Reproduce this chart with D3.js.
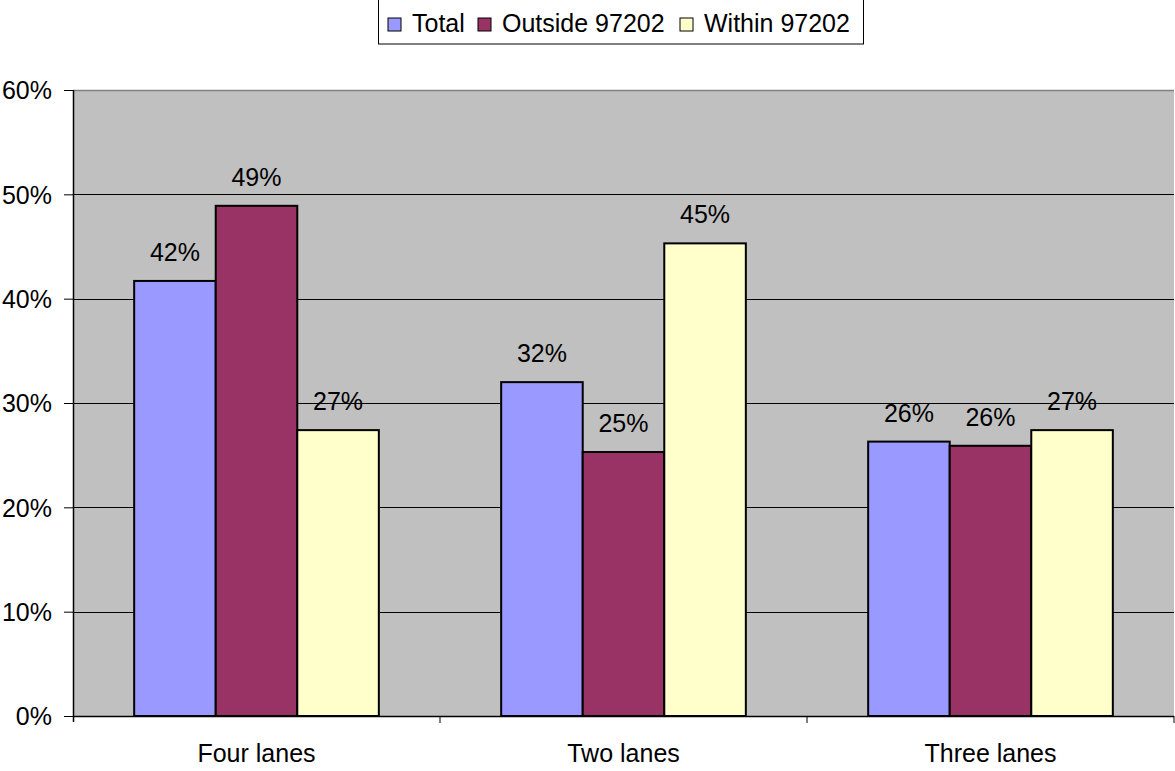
<!DOCTYPE html>
<html>
<head>
<meta charset="utf-8">
<script src="https://cdn.jsdelivr.net/npm/d3@7"></script>
<style>
  body { margin: 0; background: #fff; }
  text { font-family: "Liberation Sans", Arial, sans-serif; fill: #000; }
</style>
</head>
<body>
<div id="chart"></div>
<script>
// Chart data
const categories = ['Four lanes', 'Two lanes', 'Three lanes'];
const seriesNames = ['Total', 'Outside 97202', 'Within 97202'];
const totalValues = [0.417, 0.320, 0.263];
const outsideValues = [0.489, 0.253, 0.259];
const withinValues = [0.274, 0.453, 0.274];
const yTicks = [0, 0.1, 0.2, 0.3, 0.4, 0.5, 0.6];
const seriesColors = ['#9999FF', '#993366', '#FFFFCC'];

const seriesValues = [totalValues, outsideValues, withinValues];

const width = 1175, height = 771;
const margin = { top: 90, right: 1, bottom: 55, left: 73 };
const innerWidth = width - margin.left - margin.right;
const innerHeight = height - margin.top - margin.bottom;
const fontSize = '25px';

const root = d3.select('#chart').append('svg')
    .attr('width', width)
    .attr('height', height);

const svg = root.append('g')
    .attr('transform', `translate(${margin.left},${margin.top})`);

// Scales
const x0 = d3.scaleBand()
    .domain(categories)
    .range([0, innerWidth])
    .paddingInner(0)
    .paddingOuter(0);

// Excel-style gap width of 50%
const barWidth = x0.bandwidth() / 4.5;
const x1 = d3.scaleBand()
    .domain(seriesNames)
    .range([0.75 * barWidth, 3.75 * barWidth])
    .padding(0);

const y = d3.scaleLinear()
    .domain([0, 0.6])
    .range([innerHeight, 0]);

// Plot background
svg.append('rect')
    .attr('width', innerWidth)
    .attr('height', innerHeight)
    .attr('fill', '#C0C0C0');

// Top border of plot area
svg.append('line')
    .attr('x1', 0).attr('x2', innerWidth)
    .attr('y1', 0.5).attr('y2', 0.5)
    .attr('stroke', '#808080')
    .attr('stroke-width', 1.5);

// Gridlines
svg.selectAll('.grid')
    .data(yTicks.filter(d => d > 0 && d < 0.6))
    .enter().append('line')
    .attr('x1', 0).attr('x2', innerWidth)
    .attr('y1', d => Math.round(y(d)) + 0.5)
    .attr('y2', d => Math.round(y(d)) + 0.5)
    .attr('stroke', '#000')
    .attr('stroke-width', 1);

// Bars
const groups = svg.selectAll('.group')
    .data(categories)
    .enter().append('g')
    .attr('transform', d => `translate(${x0(d)},0)`);

groups.each(function(cat, ci) {
    const g = d3.select(this);
    seriesNames.forEach((name, si) => {
        const v = seriesValues[si][ci];
        g.append('rect')
            .attr('x', x1(name))
            .attr('y', y(v))
            .attr('width', x1.bandwidth())
            .attr('height', innerHeight - y(v))
            .attr('fill', seriesColors[si])
            .attr('stroke', '#000')
            .attr('stroke-width', 2);
        g.append('text')
            .attr('x', x1(name) + x1.bandwidth() / 2)
            .attr('y', y(v) - 20)
            .attr('text-anchor', 'middle')
            .style('font-size', fontSize)
            .text(d3.format('.0%')(v));
    });
});

// Y axis
const yAxis = d3.axisLeft(y)
    .tickValues(yTicks)
    .tickFormat(d3.format('.0%'))
    .tickSize(9)
    .tickPadding(12);

const yG = svg.append('g').call(yAxis);
yG.select('.domain').attr('stroke', '#000').attr('stroke-width', 1.5)
    .attr('d', `M0.5,0V${innerHeight + 6}`);
yG.selectAll('text')
    .style('font-size', fontSize)
    .style('font-family', '"Liberation Sans", Arial, sans-serif')
    .attr('dy', '0.35em');

// X axis
const xG = svg.append('g')
    .attr('transform', `translate(0,${innerHeight})`);
xG.append('line')
    .attr('x1', 0).attr('x2', innerWidth)
    .attr('y1', 0.5).attr('y2', 0.5)
    .attr('stroke', '#000').attr('stroke-width', 1.5);
xG.selectAll('.xtick')
    .data(categories)
    .enter().append('line')
    .attr('x1', d => x0(d) + x0.bandwidth())
    .attr('x2', d => x0(d) + x0.bandwidth())
    .attr('y1', 0).attr('y2', 7)
    .attr('stroke', '#000');
xG.selectAll('.xlabel')
    .data(categories)
    .enter().append('text')
    .attr('x', d => x0(d) + x0.bandwidth() / 2)
    .attr('y', 46)
    .attr('text-anchor', 'middle')
    .style('font-size', fontSize)
    .text(d => d);

// Legend
const legend = root.append('g').attr('transform', 'translate(378,0)');
legend.append('rect')
    .attr('x', 0.5).attr('y', -2)
    .attr('width', 485).attr('height', 46)
    .attr('fill', '#fff')
    .attr('stroke', '#000')
    .attr('stroke-width', 1);

const legendX = [10, 100, 302];
seriesNames.forEach((name, i) => {
    legend.append('rect')
        .attr('x', legendX[i]).attr('y', 18)
        .attr('width', 13).attr('height', 13)
        .attr('fill', seriesColors[i])
        .attr('stroke', '#000')
        .attr('stroke-width', 1);
    legend.append('text')
        .attr('x', legendX[i] + 24)
        .attr('y', 32)
        .style('font-size', fontSize)
        .text(name);
});
</script>
</body>
</html>
